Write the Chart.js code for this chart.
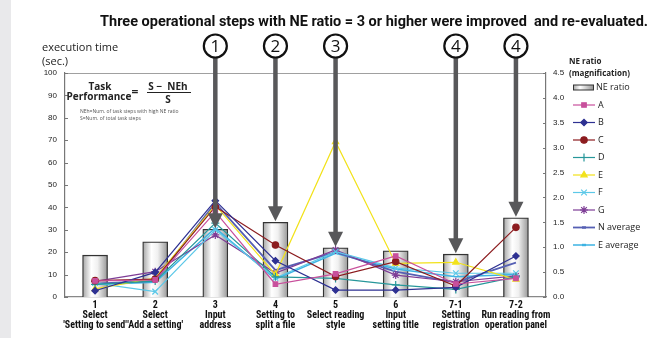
<!DOCTYPE html>
<html>
<head>
<meta charset="utf-8">
<script src="https://cdn.jsdelivr.net/npm/chart.js@4.4.1/dist/chart.umd.min.js"></script>
<style>
  html, body { margin: 0; padding: 0; background: #fff; }
  #wrap { position: relative; width: 654px; height: 338px; }
  #strip { position: absolute; left: 0; top: 0; width: 11px; height: 338px; background: #e9e9eb; }
  canvas { position: absolute; left: 0; top: 0; }
</style>
</head>
<body>
<div id="wrap">
  <div id="strip"></div>
  <canvas id="neChart" width="654" height="338"></canvas>
</div>
<script>
// categories (task steps)
const stepLabels = [
    ["1", "Select", "'Setting to send'"],
    ["2", "Select", "'Add a setting'"],
    ["3", "Input", "address"],
    ["4", "Setting to", "split a file"],
    ["5", "Select reading", "style"],
    ["6", "Input", "setting title"],
    ["7-1", "Setting", "registration"],
    ["7-2", "Run reading from", "operation panel"]
];

// NE ratio bars (right axis)
const neRatio = [0.84, 1.11, 1.36, 1.50, 0.99, 0.93, 0.86, 1.59];

// execution time per user (sec.)
const timeA = [7.2, 7.6, 38.0, 5.7, 10.3, 18.3, 5.8, 8.3];
const timeB = [2.8, 11.0, 43.0, 16.2, 3.1, 3.1, 4.3, 18.3];
const timeC = [7.3, 8.0, 40.3, 23.2, 9.1, 15.8, 4.9, 31.1];
const timeD = [5.6, 7.1, 33.0, 9.0, 8.3, 5.4, 3.4, 9.0];
const timeE = [3.6, 8.4, 41.0, 10.0, 69.3, 15.0, 15.5, 7.9];
const timeF = [6.2, 2.4, 30.0, 8.5, 20.2, 13.0, 10.6, 10.6];
const timeG = [7.0, 11.3, 27.7, 10.7, 21.0, 9.8, 6.8, 9.4];
const nAverage = [6.0, 7.2, 42.0, 12.0, 20.0, 11.3, 6.5, 15.3];
const eAverage = [5.6, 6.6, 30.8, 8.0, 19.5, 12.5, 9.0, 10.0];

// arrows: which steps were improved, and their circled numbers
const arrowTargets = [2, 3, 4, 6, 7];
const arrowMarks = ["1", "2", "3", "4", "4"];

const titleText = "Three operational steps with NE ratio = 3 or higher were improved  and re-evaluated.";

function barGradient(context) {
    const chart = context.chart;
    if (!chart.chartArea || !chart.scales.x) return "#e0e0e0";
    const cx = chart.scales.x.getPixelForValue(context.dataIndex);
    const g = chart.ctx.createLinearGradient(cx - 12.5, 0, cx + 12.5, 0);
    g.addColorStop(0, "#a4a4a4");
    g.addColorStop(0.35, "#ffffff");
    g.addColorStop(0.6, "#f0f0f0");
    g.addColorStop(1, "#979797");
    return g;
}

function lineSet(label, data, color, style, radius) {
    return {
        type: "line",
        label: label,
        data: data,
        yAxisID: "y",
        borderColor: color,
        backgroundColor: color,
        borderWidth: 1.2,
        pointStyle: style,
        pointRadius: radius,
        pointBorderWidth: 1.2,
        pointBorderColor: color,
        pointBackgroundColor: color,
        tension: 0,
        order: 1,
    };
}

const datasets = [
    {
        type: "bar",
        label: "NE ratio",
        data: neRatio,
        yAxisID: "y1",
        backgroundColor: barGradient,
        borderColor: "#333",
        borderWidth: 1.3,
        borderSkipped: "bottom",
        barThickness: 25,
        order: 10,
    },
    lineSet("A", timeA, "#c8509c", "rect", 3.2),
    lineSet("B", timeB, "#2e3192", "rectRot", 3.2),
    lineSet("C", timeC, "#8c1c1f", "circle", 3.2),
    lineSet("D", timeD, "#27979a", "cross", 4),
    lineSet("E", timeE, "#f2e21a", "triangle", 3.6),
    lineSet("F", timeF, "#5cc8e8", "crossRot", 4),
    lineSet("G", timeG, "#7e3d96", "star", 4),
    lineSet("N average", nAverage, "#5660b4", "line", 0),
    lineSet("E average", eAverage, "#3db3e3", "line", 0),
];
datasets[8].borderWidth = 1.8;
datasets[9].borderWidth = 1.5;

// frame, formula, arrows, circled numbers, title and legend
const decorPlugin = {
    id: "decor",
    beforeDatasetsDraw(chart) {
        const ctx = chart.ctx;
        const a = chart.chartArea;
        ctx.save();
        ctx.strokeStyle = "#a0a0a0";
        ctx.lineWidth = 1;
        ctx.beginPath();
        ctx.moveTo(a.left, a.top + 0.5);
        ctx.lineTo(a.right, a.top + 0.5);
        ctx.stroke();
        // small inward ticks
        ctx.strokeStyle = "#777";
        chart.scales.y.ticks.forEach(t => {
            const y = Math.round(chart.scales.y.getPixelForValue(t.value)) + 0.5;
            ctx.beginPath(); ctx.moveTo(a.left, y); ctx.lineTo(a.left + 3, y); ctx.stroke();
        });
        chart.scales.y1.ticks.forEach(t => {
            const y = Math.round(chart.scales.y1.getPixelForValue(t.value)) + 0.5;
            ctx.beginPath(); ctx.moveTo(a.right, y); ctx.lineTo(a.right - 3, y); ctx.stroke();
        });

        // formula
        ctx.fillStyle = "#222";
        ctx.textAlign = "center";
        ctx.textBaseline = "middle";
        ctx.font = "bold 10px 'Open Sans', sans-serif";
        ctx.fillText("Task", 100, 87);
        ctx.fillText("Performance", 99, 97);
        ctx.fillText("S \u2212  NEh", 168, 87);
        ctx.fillText("S", 168, 100);
        ctx.font = "bold 12px 'Open Sans', sans-serif";
        ctx.fillText("=", 135, 93);
        ctx.strokeStyle = "#222";
        ctx.lineWidth = 1;
        ctx.beginPath(); ctx.moveTo(147, 92.5); ctx.lineTo(191, 92.5); ctx.stroke();
        ctx.textAlign = "left";
        ctx.font = "5px 'Open Sans', sans-serif";
        ctx.fillStyle = "#555";
        ctx.fillText("NEh=Num. of task steps with high NE ratio", 80, 112);
        ctx.fillText("S=Num. of total task steps", 80, 118.5);
        ctx.restore();
    },
    afterDatasetsDraw(chart) {
        const ctx = chart.ctx;
        ctx.save();
        ctx.fillStyle = "#58585a";
        ctx.strokeStyle = "#58585a";
        arrowTargets.forEach(i => {
            const x = chart.scales.x.getPixelForValue(i);
            const tip = chart.scales.y1.getPixelForValue(neRatio[i]) - 1;
            ctx.lineWidth = 4.5;
            ctx.beginPath(); ctx.moveTo(x, 57); ctx.lineTo(x, tip - 12); ctx.stroke();
            ctx.beginPath();
            ctx.moveTo(x - 7.5, tip - 15);
            ctx.lineTo(x + 7.5, tip - 15);
            ctx.lineTo(x, tip);
            ctx.closePath();
            ctx.fill();
        });
        ctx.restore();
    },
    afterDraw(chart) {
        const ctx = chart.ctx;
        ctx.save();
        // circled numbers
        arrowTargets.forEach((i, k) => {
            const x = chart.scales.x.getPixelForValue(i);
            ctx.fillStyle = "#fff";
            ctx.strokeStyle = "#111";
            ctx.lineWidth = 2.2;
            ctx.beginPath(); ctx.arc(x, 46, 11.5, 0, Math.PI * 2); ctx.fill(); ctx.stroke();
            ctx.fillStyle = "#111";
            ctx.font = "17px 'Open Sans', sans-serif";
            ctx.textAlign = "center";
            ctx.textBaseline = "middle";
            ctx.fillText(arrowMarks[k], x, 47);
        });

        // title
        ctx.fillStyle = "#111";
        ctx.textAlign = "right";
        ctx.textBaseline = "alphabetic";
        ctx.font = "bold 14.5px Roboto, sans-serif";
        ctx.fillText(titleText, 648, 26);

        // axis titles
        ctx.textAlign = "left";
        ctx.font = "11px 'Open Sans', sans-serif";
        ctx.fillStyle = "#222";
        ctx.fillText("execution time", 42, 51);
        ctx.fillText("(sec.)", 42, 65);
        ctx.font = "bold 8px 'Open Sans', sans-serif";
        ctx.fillText("NE ratio", 569, 64);
        ctx.fillText("(magnification)", 569, 76);

        // legend
        const lx = 573, lw = 22;
        ctx.font = "9px 'Open Sans', sans-serif";
        ctx.textBaseline = "middle";
        chart.data.datasets.forEach((ds, k) => {
            const y = 87.5 + k * 17.5;
            if (ds.type === "bar") {
                const g = ctx.createLinearGradient(lx, 0, lx + 20, 0);
                g.addColorStop(0, "#a4a4a4"); g.addColorStop(0.35, "#fff"); g.addColorStop(1, "#979797");
                ctx.fillStyle = g;
                ctx.fillRect(lx, y - 2.5, 20, 5);
                ctx.strokeStyle = "#333"; ctx.lineWidth = 1;
                ctx.strokeRect(lx + 0.5, y - 2.5, 20, 5);
                ctx.fillStyle = "#222";
                ctx.fillText(ds.label, lx + 23, y);
                return;
            }
            ctx.strokeStyle = ds.borderColor;
            ctx.lineWidth = ds.borderWidth;
            ctx.beginPath(); ctx.moveTo(lx, y); ctx.lineTo(lx + lw, y); ctx.stroke();
            ctx.fillStyle = ds.borderColor;
            ctx.strokeStyle = ds.borderColor;
            if (ds.pointRadius > 0) {
                ctx.lineWidth = 1.2;
                Chart.helpers.drawPoint(ctx, {
                    pointStyle: ds.pointStyle, radius: ds.pointRadius, rotation: 0,
                    borderWidth: 1.2
                }, lx + lw / 2, y);
            } else {
                ctx.fillRect(lx + lw / 2 - 2, y - 1.2, 4, 2.4);
            }
            ctx.fillStyle = "#222";
            ctx.fillText(ds.label, lx + lw + 3, y);
        });
        ctx.restore();
    }
};

new Chart(document.getElementById("neChart"), {
    data: { labels: stepLabels, datasets: datasets },
    plugins: [decorPlugin],
    options: {
        responsive: false,
        animation: false,
        events: [],
        layout: { padding: { left: 0, right: 88, top: 73, bottom: 0 } },
        plugins: { legend: { display: false }, tooltip: { enabled: false }, title: { display: false } },
        scales: {
            x: {
                offset: true,
                grid: { display: false, drawTicks: false },
                border: { color: "#888", width: 1.2 },
                ticks: {
                    padding: 3,
                    color: "#111",
                    maxRotation: 0,
                    autoSkip: false,
                    font: { family: "'Liberation Sans Narrow', 'Roboto Condensed', Roboto, sans-serif", weight: "bold", size: 10, lineHeight: 1.0 },
                },
                afterFit(s) { s.height = 41; },
            },
            y: {
                position: "left",
                min: 0, max: 100,
                grid: { display: false, drawTicks: false },
                border: { color: "#777", width: 1.2 },
                ticks: { stepSize: 10, padding: 8, color: "#222", font: { family: "'Liberation Sans', sans-serif", size: 8 } },
                afterFit(s) { s.width = 65; },
            },
            y1: {
                position: "right",
                min: 0, max: 4.5,
                grid: { display: false, drawTicks: false },
                border: { color: "#777", width: 1.2 },
                ticks: {
                    stepSize: 0.5, padding: 7, color: "#222",
                    font: { family: "'Liberation Sans', sans-serif", size: 8 },
                    callback: v => v.toFixed(1),
                },
                afterFit(s) { s.width = 20; },
            },
        },
    },
});
</script>
</body>
</html>
